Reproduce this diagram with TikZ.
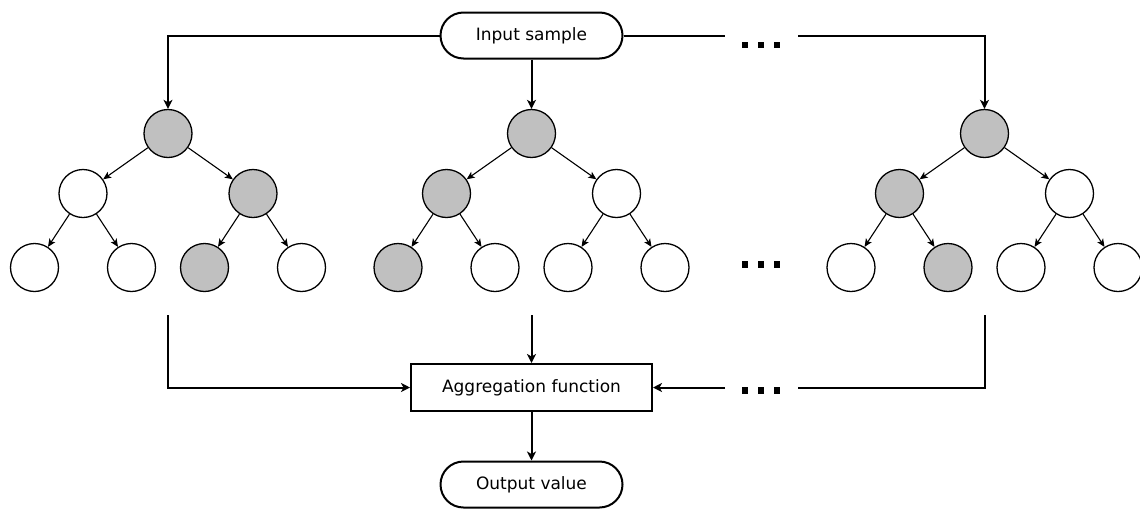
\documentclass[tikz,border=0pt]{standalone}
\usepackage{fontspec}
\setmainfont{DejaVu Sans}
\usetikzlibrary{arrows.meta}
\definecolor{nodegray}{HTML}{C0C0C0}
\tikzset{
  flow/.style={line width=2pt, -{Stealth[length=9pt,width=9pt,inset=2.5pt]}},
  flowline/.style={line width=2pt},
  branch/.style={line width=1.1pt, -{Stealth[length=8pt,width=7pt,inset=2pt]}},
  terminal/.style={draw, line width=2pt, rectangle, rounded corners=23pt,
    minimum width=182pt, minimum height=46pt, inner sep=0pt,
    font=\fontsize{17}{20}\selectfont},
  process/.style={draw, line width=2pt, rectangle,
    minimum width=241pt, minimum height=47pt, inner sep=0pt,
    font=\fontsize{17}{20}\selectfont},
  tnode/.style={draw, line width=1.3pt, circle, minimum size=48pt, inner sep=0pt},
  dotmark/.style={rectangle, fill=black, minimum size=6.5pt, inner sep=0pt},
}
\begin{document}
\begin{tikzpicture}[x=1pt, y=-1pt]
\useasboundingbox (0,0) rectangle (1140,509);

% input and output terminals, aggregation step
\node[terminal] (in)  at (531.5,35.5) {Input sample};
\node[process]  (agg) at (531.5,387.5) {Aggregation function};
\node[terminal] (out) at (531.5,484.5) {Output value};

% three decision trees: root, two inner nodes, four leaves
\foreach \t/\cx/\fr/\fa/\fb/\faa/\fab/\fba/\fbb in {
    1/168/nodegray/white/nodegray/white/white/nodegray/white,
    2/531.5/nodegray/nodegray/white/nodegray/white/white/white,
    3/984.5/nodegray/nodegray/white/white/nodegray/white/white} {
  \node[tnode, fill=\fr]  (t\t r)  at (\cx,133.5) {};
  \node[tnode, fill=\fa]  (t\t a)  at (\cx-85,193.5) {};
  \node[tnode, fill=\fb]  (t\t b)  at (\cx+85,193.5) {};
  \node[tnode, fill=\faa] (t\t aa) at (\cx-133.5,267.5) {};
  \node[tnode, fill=\fab] (t\t ab) at (\cx-36.5,267.5) {};
  \node[tnode, fill=\fba] (t\t ba) at (\cx+36.5,267.5) {};
  \node[tnode, fill=\fbb] (t\t bb) at (\cx+133.5,267.5) {};
  \draw[branch] (t\t r) -- (t\t a);
  \draw[branch] (t\t r) -- (t\t b);
  \draw[branch] (t\t a) -- (t\t aa);
  \draw[branch] (t\t a) -- (t\t ab);
  \draw[branch] (t\t b) -- (t\t ba);
  \draw[branch] (t\t b) -- (t\t bb);
}

% ellipses for the omitted trees
\foreach \row/\y in {top/45, mid/264.5, bot/390.5} {
  \node[dotmark] (\row1) at (745,\y) {};
  \node[dotmark] (\row2) at (761,\y) {};
  \node[dotmark] (\row3) at (777,\y) {};
}

% free ends of the connectors
\coordinate (topgapL) at (725,35.5);
\coordinate (topgapR) at (798,35.5);
\coordinate (out1) at (168,315);
\coordinate (out2) at (531.5,315);
\coordinate (out3) at (984.5,315);
\coordinate (botgapR) at (798,387.5);
\coordinate (botgapL) at (725,387.5);

% sample distributed to the trees
\draw[flow] (in.west) -| (t1r.north);
\draw[flow] (in.south) -- (t2r.north);
\draw[flowline] (in.east) -- (topgapL);
\draw[flow] (topgapR) -| (t3r.north);

% tree outputs collected by the aggregation function
\draw[flow] (out1) |- (agg.west);
\draw[flow] (out2) -- (agg.north);
\draw[flowline] (out3) |- (botgapR);
\draw[flow] (botgapL) -- (agg.east);
\draw[flow] (agg.south) -- (out.north);
\end{tikzpicture}
\end{document}
